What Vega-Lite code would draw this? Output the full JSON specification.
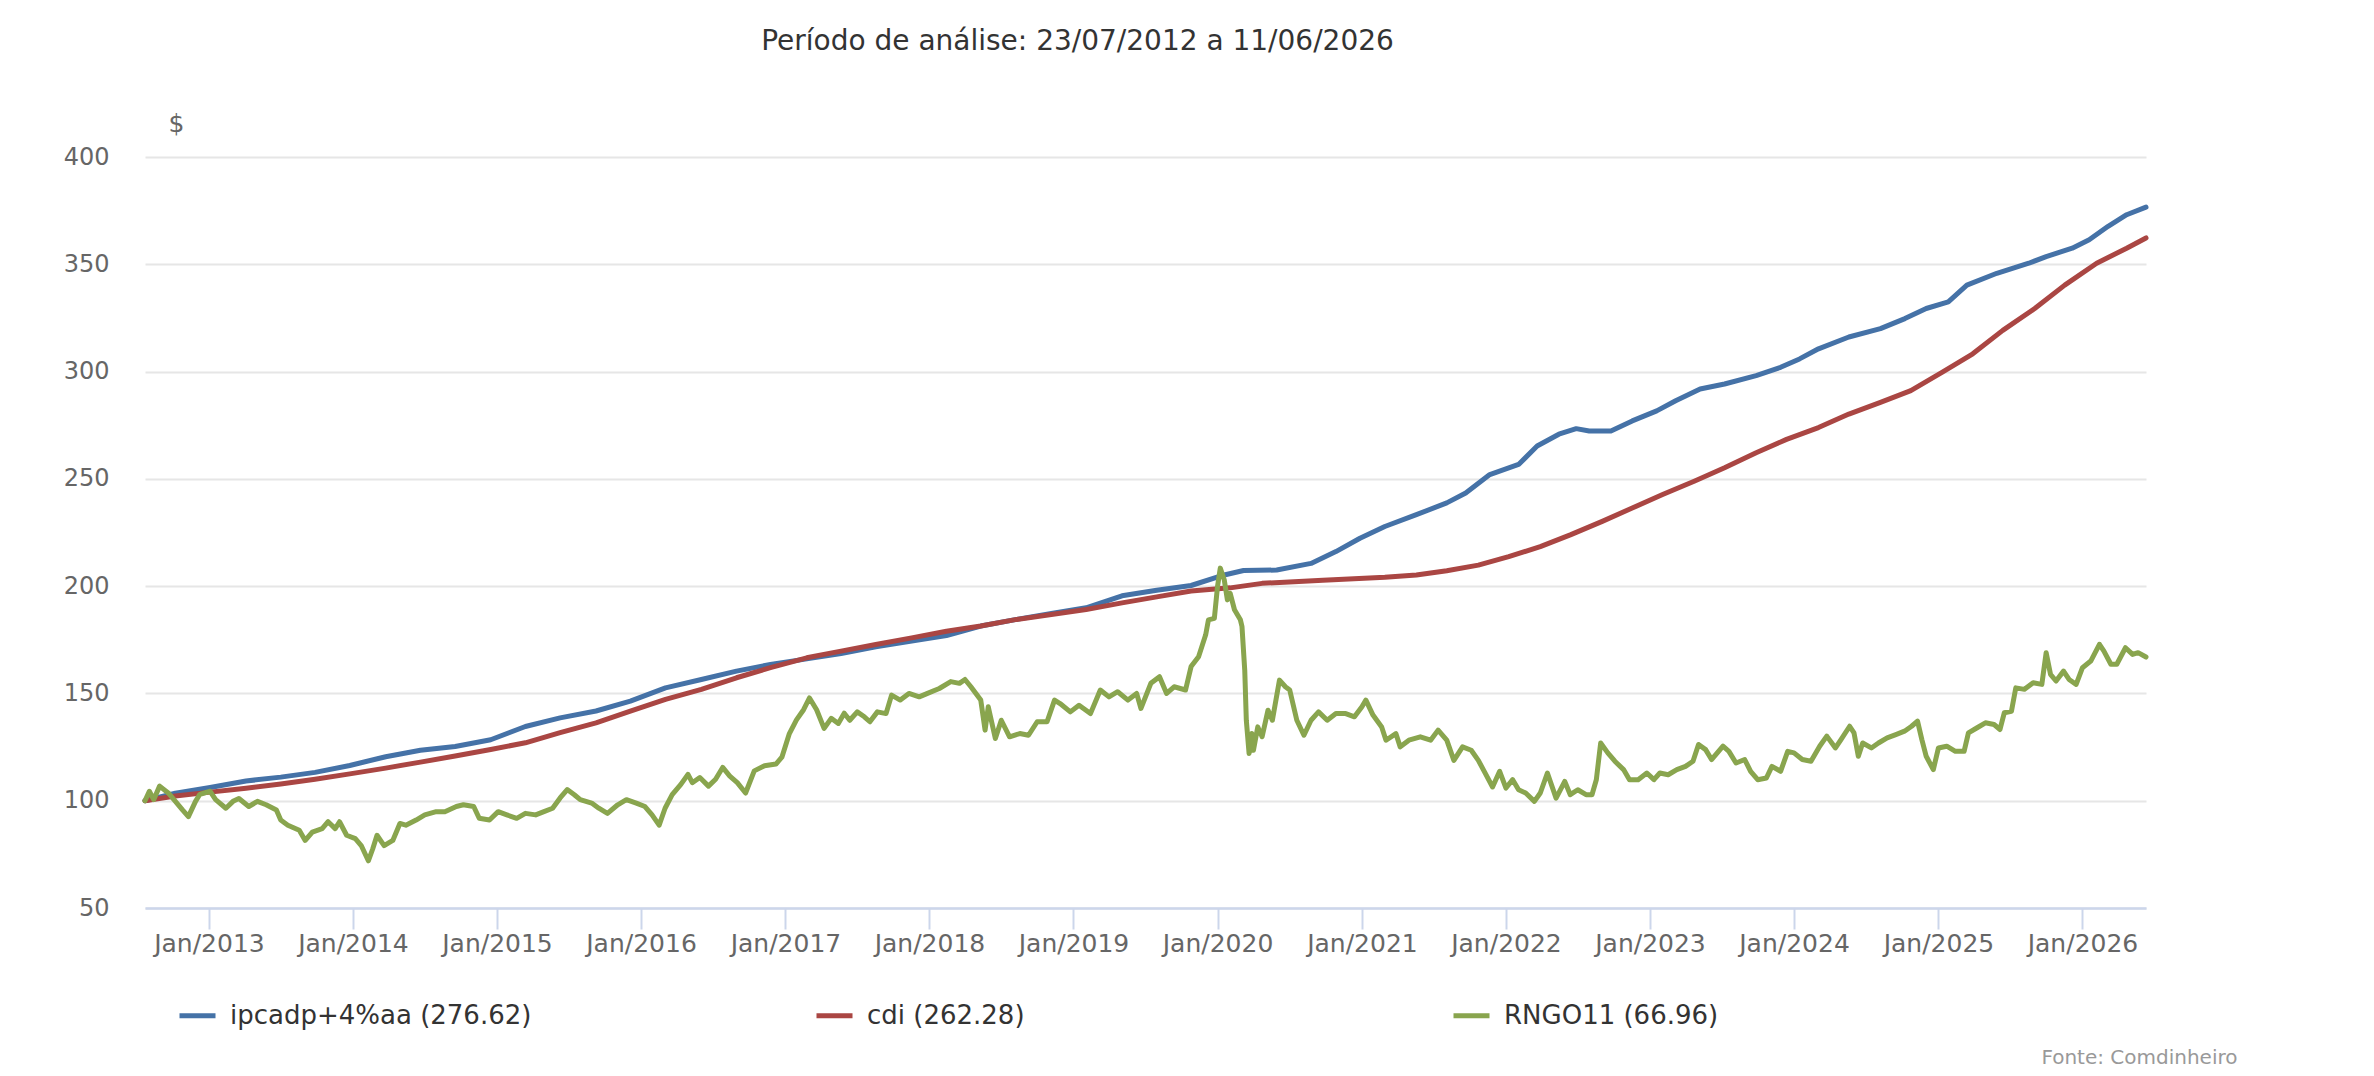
{
  "$schema": "https://vega.github.io/schema/vega-lite/v6.json",
  "autosize": {"type": "none"},
  "width": 2001,
  "height": 751,
  "padding": {"left": 145, "top": 157, "right": 228, "bottom": 168},
  "background": "white",
  "title": {
    "text": "Período de análise: 23/07/2012 a 11/06/2026",
    "font": "DejaVu Sans",
    "fontSize": 28,
    "fontWeight": "normal",
    "color": "#333333",
    "anchor": "middle",
    "frame": "group",
    "dx": -68,
    "offset": 55
  },
  "config": {
    "view": {"stroke": null},
    "font": "DejaVu Sans"
  },
  "datasets": {
    "serie": [
      {"date": "2012-07-23", "s": "ipca", "v": 100},
      {"date": "2012-10-08", "s": "ipca", "v": 103.5},
      {"date": "2013-01-04", "s": "ipca", "v": 106.2},
      {"date": "2013-04-05", "s": "ipca", "v": 109.2},
      {"date": "2013-07-02", "s": "ipca", "v": 111},
      {"date": "2013-09-27", "s": "ipca", "v": 113.2},
      {"date": "2013-12-24", "s": "ipca", "v": 116.4},
      {"date": "2014-03-25", "s": "ipca", "v": 120.5},
      {"date": "2014-06-21", "s": "ipca", "v": 123.5},
      {"date": "2014-09-17", "s": "ipca", "v": 125.3},
      {"date": "2014-12-16", "s": "ipca", "v": 128.4},
      {"date": "2015-03-14", "s": "ipca", "v": 134.6},
      {"date": "2015-06-10", "s": "ipca", "v": 138.6},
      {"date": "2015-09-09", "s": "ipca", "v": 141.8},
      {"date": "2015-12-05", "s": "ipca", "v": 146.4},
      {"date": "2016-03-03", "s": "ipca", "v": 152.6},
      {"date": "2016-06-02", "s": "ipca", "v": 156.5},
      {"date": "2016-08-30", "s": "ipca", "v": 160.4},
      {"date": "2016-11-24", "s": "ipca", "v": 163.5},
      {"date": "2017-02-24", "s": "ipca", "v": 166.1},
      {"date": "2017-05-22", "s": "ipca", "v": 168.6},
      {"date": "2017-08-18", "s": "ipca", "v": 171.7},
      {"date": "2017-11-17", "s": "ipca", "v": 174.4},
      {"date": "2018-02-13", "s": "ipca", "v": 177},
      {"date": "2018-05-11", "s": "ipca", "v": 181.4},
      {"date": "2018-08-10", "s": "ipca", "v": 184.5},
      {"date": "2018-11-06", "s": "ipca", "v": 187.3},
      {"date": "2019-02-02", "s": "ipca", "v": 189.9},
      {"date": "2019-05-04", "s": "ipca", "v": 195.5},
      {"date": "2019-07-31", "s": "ipca", "v": 198.1},
      {"date": "2019-10-26", "s": "ipca", "v": 200.3},
      {"date": "2020-01-18", "s": "ipca", "v": 205.2},
      {"date": "2020-03-07", "s": "ipca", "v": 207.3},
      {"date": "2020-05-30", "s": "ipca", "v": 207.5},
      {"date": "2020-08-25", "s": "ipca", "v": 210.6},
      {"date": "2020-10-27", "s": "ipca", "v": 216.1},
      {"date": "2020-12-27", "s": "ipca", "v": 222.3},
      {"date": "2021-02-28", "s": "ipca", "v": 227.8},
      {"date": "2021-05-19", "s": "ipca", "v": 233.3},
      {"date": "2021-08-04", "s": "ipca", "v": 238.8},
      {"date": "2021-09-21", "s": "ipca", "v": 243.4},
      {"date": "2021-11-21", "s": "ipca", "v": 252},
      {"date": "2022-02-02", "s": "ipca", "v": 256.7},
      {"date": "2022-03-21", "s": "ipca", "v": 265.3},
      {"date": "2022-05-15", "s": "ipca", "v": 270.8},
      {"date": "2022-06-28", "s": "ipca", "v": 273.4},
      {"date": "2022-07-31", "s": "ipca", "v": 272.3},
      {"date": "2022-09-24", "s": "ipca", "v": 272.3},
      {"date": "2022-11-17", "s": "ipca", "v": 277},
      {"date": "2023-01-18", "s": "ipca", "v": 281.7},
      {"date": "2023-03-07", "s": "ipca", "v": 286.4},
      {"date": "2023-05-08", "s": "ipca", "v": 291.9},
      {"date": "2023-07-09", "s": "ipca", "v": 294.2},
      {"date": "2023-09-27", "s": "ipca", "v": 298.1},
      {"date": "2023-11-28", "s": "ipca", "v": 302},
      {"date": "2024-01-15", "s": "ipca", "v": 305.9},
      {"date": "2024-03-03", "s": "ipca", "v": 310.6},
      {"date": "2024-05-19", "s": "ipca", "v": 316.1},
      {"date": "2024-08-07", "s": "ipca", "v": 320},
      {"date": "2024-10-08", "s": "ipca", "v": 324.7},
      {"date": "2024-12-01", "s": "ipca", "v": 329.4},
      {"date": "2025-01-26", "s": "ipca", "v": 332.5},
      {"date": "2025-03-14", "s": "ipca", "v": 340.3},
      {"date": "2025-05-29", "s": "ipca", "v": 345.8},
      {"date": "2025-08-18", "s": "ipca", "v": 350.5},
      {"date": "2025-10-01", "s": "ipca", "v": 353.6},
      {"date": "2025-12-06", "s": "ipca", "v": 357.5},
      {"date": "2026-01-18", "s": "ipca", "v": 361.4},
      {"date": "2026-03-07", "s": "ipca", "v": 367.7},
      {"date": "2026-04-23", "s": "ipca", "v": 373.1},
      {"date": "2026-06-11", "s": "ipca", "v": 376.62},

      {"date": "2012-07-23", "s": "cdi", "v": 100},
      {"date": "2012-10-08", "s": "cdi", "v": 102.2},
      {"date": "2013-01-04", "s": "cdi", "v": 104},
      {"date": "2013-04-05", "s": "cdi", "v": 105.8},
      {"date": "2013-07-02", "s": "cdi", "v": 107.8},
      {"date": "2013-09-27", "s": "cdi", "v": 110},
      {"date": "2013-12-24", "s": "cdi", "v": 112.5},
      {"date": "2014-03-25", "s": "cdi", "v": 115.2},
      {"date": "2014-06-21", "s": "cdi", "v": 118},
      {"date": "2014-09-17", "s": "cdi", "v": 120.8},
      {"date": "2014-12-16", "s": "cdi", "v": 123.9},
      {"date": "2015-03-14", "s": "cdi", "v": 127},
      {"date": "2015-06-10", "s": "cdi", "v": 131.7},
      {"date": "2015-09-09", "s": "cdi", "v": 136.3},
      {"date": "2015-12-05", "s": "cdi", "v": 141.8},
      {"date": "2016-03-03", "s": "cdi", "v": 147.2},
      {"date": "2016-06-02", "s": "cdi", "v": 151.9},
      {"date": "2016-08-30", "s": "cdi", "v": 157.3},
      {"date": "2016-11-24", "s": "cdi", "v": 162},
      {"date": "2017-02-24", "s": "cdi", "v": 166.6},
      {"date": "2017-05-22", "s": "cdi", "v": 169.7},
      {"date": "2017-08-18", "s": "cdi", "v": 172.8},
      {"date": "2017-11-17", "s": "cdi", "v": 175.9},
      {"date": "2018-02-13", "s": "cdi", "v": 179},
      {"date": "2018-05-11", "s": "cdi", "v": 181.4},
      {"date": "2018-08-10", "s": "cdi", "v": 184.5},
      {"date": "2018-11-06", "s": "cdi", "v": 186.8},
      {"date": "2019-02-02", "s": "cdi", "v": 189.1},
      {"date": "2019-05-04", "s": "cdi", "v": 192.2},
      {"date": "2019-07-31", "s": "cdi", "v": 195},
      {"date": "2019-10-26", "s": "cdi", "v": 197.7},
      {"date": "2020-02-02", "s": "cdi", "v": 199.2},
      {"date": "2020-04-23", "s": "cdi", "v": 201.3},
      {"date": "2020-09-24", "s": "cdi", "v": 202.8},
      {"date": "2021-02-28", "s": "cdi", "v": 204.1},
      {"date": "2021-05-19", "s": "cdi", "v": 205.2},
      {"date": "2021-08-04", "s": "cdi", "v": 207.2},
      {"date": "2021-10-23", "s": "cdi", "v": 209.8},
      {"date": "2022-01-08", "s": "cdi", "v": 213.8},
      {"date": "2022-03-29", "s": "cdi", "v": 218.4},
      {"date": "2022-06-13", "s": "cdi", "v": 223.9},
      {"date": "2022-09-02", "s": "cdi", "v": 230.2},
      {"date": "2022-11-17", "s": "cdi", "v": 236.4},
      {"date": "2023-02-02", "s": "cdi", "v": 242.7},
      {"date": "2023-04-23", "s": "cdi", "v": 248.9},
      {"date": "2023-07-09", "s": "cdi", "v": 255.2},
      {"date": "2023-09-27", "s": "cdi", "v": 262.2},
      {"date": "2023-12-13", "s": "cdi", "v": 268.4},
      {"date": "2024-03-03", "s": "cdi", "v": 273.9},
      {"date": "2024-05-19", "s": "cdi", "v": 280.2},
      {"date": "2024-08-07", "s": "cdi", "v": 285.6},
      {"date": "2024-10-23", "s": "cdi", "v": 291.1},
      {"date": "2025-01-11", "s": "cdi", "v": 299.7},
      {"date": "2025-03-29", "s": "cdi", "v": 308.3},
      {"date": "2025-06-13", "s": "cdi", "v": 319.2},
      {"date": "2025-09-02", "s": "cdi", "v": 329.4},
      {"date": "2025-11-17", "s": "cdi", "v": 340.3},
      {"date": "2026-02-06", "s": "cdi", "v": 350.5},
      {"date": "2026-04-23", "s": "cdi", "v": 357.5},
      {"date": "2026-06-11", "s": "cdi", "v": 362.28},

      {"date": "2012-07-23", "s": "rngo", "v": 100},
      {"date": "2012-08-03", "s": "rngo", "v": 104.4},
      {"date": "2012-08-14", "s": "rngo", "v": 100.5},
      {"date": "2012-08-29", "s": "rngo", "v": 106.8},
      {"date": "2012-09-20", "s": "rngo", "v": 103.6},
      {"date": "2012-10-08", "s": "rngo", "v": 99.7},
      {"date": "2012-10-26", "s": "rngo", "v": 95.7},
      {"date": "2012-11-10", "s": "rngo", "v": 92.6},
      {"date": "2012-11-28", "s": "rngo", "v": 99.7},
      {"date": "2012-12-09", "s": "rngo", "v": 103},
      {"date": "2013-01-04", "s": "rngo", "v": 104.4},
      {"date": "2013-01-18", "s": "rngo", "v": 100.5},
      {"date": "2013-02-13", "s": "rngo", "v": 96.5},
      {"date": "2013-03-03", "s": "rngo", "v": 99.7},
      {"date": "2013-03-18", "s": "rngo", "v": 101},
      {"date": "2013-04-12", "s": "rngo", "v": 97.3},
      {"date": "2013-05-04", "s": "rngo", "v": 99.7},
      {"date": "2013-05-26", "s": "rngo", "v": 98.1},
      {"date": "2013-06-21", "s": "rngo", "v": 95.7},
      {"date": "2013-07-02", "s": "rngo", "v": 91},
      {"date": "2013-07-20", "s": "rngo", "v": 88.6},
      {"date": "2013-08-18", "s": "rngo", "v": 86.2},
      {"date": "2013-09-02", "s": "rngo", "v": 81.5},
      {"date": "2013-09-20", "s": "rngo", "v": 85.4},
      {"date": "2013-10-15", "s": "rngo", "v": 87},
      {"date": "2013-10-30", "s": "rngo", "v": 90.2},
      {"date": "2013-11-17", "s": "rngo", "v": 87},
      {"date": "2013-11-28", "s": "rngo", "v": 90.2},
      {"date": "2013-12-16", "s": "rngo", "v": 83.9},
      {"date": "2014-01-07", "s": "rngo", "v": 82.3},
      {"date": "2014-01-22", "s": "rngo", "v": 79.1},
      {"date": "2014-02-09", "s": "rngo", "v": 72},
      {"date": "2014-02-20", "s": "rngo", "v": 77.5},
      {"date": "2014-03-03", "s": "rngo", "v": 83.9},
      {"date": "2014-03-21", "s": "rngo", "v": 79.1},
      {"date": "2014-04-12", "s": "rngo", "v": 81.5},
      {"date": "2014-04-30", "s": "rngo", "v": 89.4},
      {"date": "2014-05-15", "s": "rngo", "v": 88.6},
      {"date": "2014-06-10", "s": "rngo", "v": 91},
      {"date": "2014-07-02", "s": "rngo", "v": 93.4},
      {"date": "2014-07-31", "s": "rngo", "v": 94.9},
      {"date": "2014-08-22", "s": "rngo", "v": 94.9},
      {"date": "2014-09-20", "s": "rngo", "v": 97.3},
      {"date": "2014-10-08", "s": "rngo", "v": 98.1},
      {"date": "2014-11-03", "s": "rngo", "v": 97.3},
      {"date": "2014-11-17", "s": "rngo", "v": 91.8},
      {"date": "2014-12-13", "s": "rngo", "v": 91},
      {"date": "2015-01-04", "s": "rngo", "v": 94.9},
      {"date": "2015-01-26", "s": "rngo", "v": 93.4},
      {"date": "2015-02-20", "s": "rngo", "v": 91.8},
      {"date": "2015-03-14", "s": "rngo", "v": 94.1},
      {"date": "2015-04-09", "s": "rngo", "v": 93.4},
      {"date": "2015-04-30", "s": "rngo", "v": 94.9},
      {"date": "2015-05-22", "s": "rngo", "v": 96.5},
      {"date": "2015-06-10", "s": "rngo", "v": 101.3},
      {"date": "2015-06-28", "s": "rngo", "v": 105.2},
      {"date": "2015-07-16", "s": "rngo", "v": 102.8},
      {"date": "2015-07-31", "s": "rngo", "v": 100.5},
      {"date": "2015-08-29", "s": "rngo", "v": 98.9},
      {"date": "2015-09-16", "s": "rngo", "v": 96.5},
      {"date": "2015-10-08", "s": "rngo", "v": 94.1},
      {"date": "2015-11-03", "s": "rngo", "v": 98.1},
      {"date": "2015-11-25", "s": "rngo", "v": 100.5},
      {"date": "2015-12-20", "s": "rngo", "v": 98.9},
      {"date": "2016-01-11", "s": "rngo", "v": 97.3},
      {"date": "2016-01-29", "s": "rngo", "v": 93.4},
      {"date": "2016-02-16", "s": "rngo", "v": 88.6},
      {"date": "2016-03-02", "s": "rngo", "v": 96.5},
      {"date": "2016-03-20", "s": "rngo", "v": 102.8},
      {"date": "2016-04-11", "s": "rngo", "v": 107.6},
      {"date": "2016-04-29", "s": "rngo", "v": 112.3},
      {"date": "2016-05-10", "s": "rngo", "v": 108.4},
      {"date": "2016-05-29", "s": "rngo", "v": 110.8},
      {"date": "2016-06-20", "s": "rngo", "v": 106.8},
      {"date": "2016-07-08", "s": "rngo", "v": 110},
      {"date": "2016-07-26", "s": "rngo", "v": 115.5},
      {"date": "2016-08-13", "s": "rngo", "v": 111.5},
      {"date": "2016-09-01", "s": "rngo", "v": 108.4},
      {"date": "2016-09-22", "s": "rngo", "v": 103.6},
      {"date": "2016-10-14", "s": "rngo", "v": 113.9},
      {"date": "2016-11-09", "s": "rngo", "v": 116.3},
      {"date": "2016-12-08", "s": "rngo", "v": 117.1},
      {"date": "2016-12-23", "s": "rngo", "v": 120.3},
      {"date": "2017-01-11", "s": "rngo", "v": 131.3},
      {"date": "2017-01-29", "s": "rngo", "v": 137.7},
      {"date": "2017-02-16", "s": "rngo", "v": 142.4},
      {"date": "2017-03-03", "s": "rngo", "v": 147.9},
      {"date": "2017-03-21", "s": "rngo", "v": 142.4},
      {"date": "2017-04-09", "s": "rngo", "v": 133.7},
      {"date": "2017-04-27", "s": "rngo", "v": 138.4},
      {"date": "2017-05-15", "s": "rngo", "v": 136},
      {"date": "2017-05-30", "s": "rngo", "v": 140.8},
      {"date": "2017-06-13", "s": "rngo", "v": 137.5},
      {"date": "2017-07-02", "s": "rngo", "v": 141.4},
      {"date": "2017-07-20", "s": "rngo", "v": 139.1},
      {"date": "2017-08-03", "s": "rngo", "v": 136.8},
      {"date": "2017-08-22", "s": "rngo", "v": 141.4},
      {"date": "2017-09-13", "s": "rngo", "v": 140.6},
      {"date": "2017-09-27", "s": "rngo", "v": 149.2},
      {"date": "2017-10-19", "s": "rngo", "v": 146.9},
      {"date": "2017-11-10", "s": "rngo", "v": 150},
      {"date": "2017-12-06", "s": "rngo", "v": 148.4},
      {"date": "2017-12-27", "s": "rngo", "v": 150},
      {"date": "2018-01-26", "s": "rngo", "v": 152.3},
      {"date": "2018-02-24", "s": "rngo", "v": 155.5},
      {"date": "2018-03-18", "s": "rngo", "v": 154.7},
      {"date": "2018-04-01", "s": "rngo", "v": 156.5},
      {"date": "2018-04-16", "s": "rngo", "v": 153.1},
      {"date": "2018-05-11", "s": "rngo", "v": 146.9},
      {"date": "2018-05-22", "s": "rngo", "v": 132.9},
      {"date": "2018-05-30", "s": "rngo", "v": 143.8},
      {"date": "2018-06-17", "s": "rngo", "v": 129},
      {"date": "2018-07-02", "s": "rngo", "v": 137.5},
      {"date": "2018-07-23", "s": "rngo", "v": 129.8},
      {"date": "2018-08-18", "s": "rngo", "v": 131.3},
      {"date": "2018-09-09", "s": "rngo", "v": 130.5},
      {"date": "2018-10-01", "s": "rngo", "v": 136.8},
      {"date": "2018-10-26", "s": "rngo", "v": 136.8},
      {"date": "2018-11-14", "s": "rngo", "v": 146.9},
      {"date": "2018-11-28", "s": "rngo", "v": 145.3},
      {"date": "2018-12-24", "s": "rngo", "v": 141.4},
      {"date": "2019-01-15", "s": "rngo", "v": 144.5},
      {"date": "2019-02-13", "s": "rngo", "v": 140.6},
      {"date": "2019-03-10", "s": "rngo", "v": 151.6},
      {"date": "2019-04-01", "s": "rngo", "v": 148.4},
      {"date": "2019-04-23", "s": "rngo", "v": 150.8},
      {"date": "2019-05-19", "s": "rngo", "v": 146.9},
      {"date": "2019-06-10", "s": "rngo", "v": 150},
      {"date": "2019-06-21", "s": "rngo", "v": 143},
      {"date": "2019-07-16", "s": "rngo", "v": 154.7},
      {"date": "2019-08-07", "s": "rngo", "v": 157.8},
      {"date": "2019-08-25", "s": "rngo", "v": 150},
      {"date": "2019-09-13", "s": "rngo", "v": 153.1},
      {"date": "2019-10-12", "s": "rngo", "v": 151.6},
      {"date": "2019-10-26", "s": "rngo", "v": 162.5},
      {"date": "2019-11-14", "s": "rngo", "v": 167.1},
      {"date": "2019-12-02", "s": "rngo", "v": 177.3},
      {"date": "2019-12-09", "s": "rngo", "v": 184.3},
      {"date": "2019-12-24", "s": "rngo", "v": 185},
      {"date": "2020-01-01", "s": "rngo", "v": 199.8},
      {"date": "2020-01-08", "s": "rngo", "v": 208.4},
      {"date": "2020-01-18", "s": "rngo", "v": 203},
      {"date": "2020-01-26", "s": "rngo", "v": 193.6},
      {"date": "2020-02-02", "s": "rngo", "v": 196.7},
      {"date": "2020-02-13", "s": "rngo", "v": 189},
      {"date": "2020-02-28", "s": "rngo", "v": 184.3},
      {"date": "2020-03-03", "s": "rngo", "v": 181.2},
      {"date": "2020-03-10", "s": "rngo", "v": 160.9},
      {"date": "2020-03-14", "s": "rngo", "v": 137.5},
      {"date": "2020-03-21", "s": "rngo", "v": 122},
      {"date": "2020-03-28", "s": "rngo", "v": 131.3},
      {"date": "2020-04-01", "s": "rngo", "v": 123.5},
      {"date": "2020-04-12", "s": "rngo", "v": 134.4},
      {"date": "2020-04-23", "s": "rngo", "v": 129.8},
      {"date": "2020-05-08", "s": "rngo", "v": 142.2},
      {"date": "2020-05-19", "s": "rngo", "v": 137.5},
      {"date": "2020-06-06", "s": "rngo", "v": 156.2},
      {"date": "2020-06-21", "s": "rngo", "v": 153.1},
      {"date": "2020-07-02", "s": "rngo", "v": 151.6},
      {"date": "2020-07-20", "s": "rngo", "v": 137.5},
      {"date": "2020-08-07", "s": "rngo", "v": 130.5},
      {"date": "2020-08-25", "s": "rngo", "v": 137.5},
      {"date": "2020-09-13", "s": "rngo", "v": 141.4},
      {"date": "2020-10-05", "s": "rngo", "v": 137.5},
      {"date": "2020-10-27", "s": "rngo", "v": 140.6},
      {"date": "2020-11-21", "s": "rngo", "v": 140.6},
      {"date": "2020-12-13", "s": "rngo", "v": 139.1},
      {"date": "2021-01-01", "s": "rngo", "v": 143.8},
      {"date": "2021-01-11", "s": "rngo", "v": 146.9},
      {"date": "2021-01-29", "s": "rngo", "v": 139.9},
      {"date": "2021-02-20", "s": "rngo", "v": 134.4},
      {"date": "2021-03-03", "s": "rngo", "v": 128.2},
      {"date": "2021-03-28", "s": "rngo", "v": 131.3},
      {"date": "2021-04-08", "s": "rngo", "v": 125.1},
      {"date": "2021-04-30", "s": "rngo", "v": 128.2},
      {"date": "2021-05-29", "s": "rngo", "v": 129.8},
      {"date": "2021-06-24", "s": "rngo", "v": 128.2},
      {"date": "2021-07-13", "s": "rngo", "v": 132.9},
      {"date": "2021-08-04", "s": "rngo", "v": 128.2},
      {"date": "2021-08-22", "s": "rngo", "v": 118.8},
      {"date": "2021-09-13", "s": "rngo", "v": 125.1},
      {"date": "2021-10-05", "s": "rngo", "v": 123.5},
      {"date": "2021-10-23", "s": "rngo", "v": 118.8},
      {"date": "2021-11-10", "s": "rngo", "v": 112.6},
      {"date": "2021-11-28", "s": "rngo", "v": 106.4},
      {"date": "2021-12-16", "s": "rngo", "v": 113.7},
      {"date": "2022-01-01", "s": "rngo", "v": 105.9},
      {"date": "2022-01-18", "s": "rngo", "v": 109.8},
      {"date": "2022-02-02", "s": "rngo", "v": 105.1},
      {"date": "2022-02-20", "s": "rngo", "v": 103.6},
      {"date": "2022-03-14", "s": "rngo", "v": 99.7},
      {"date": "2022-03-29", "s": "rngo", "v": 103.6},
      {"date": "2022-04-16", "s": "rngo", "v": 112.9},
      {"date": "2022-05-08", "s": "rngo", "v": 101.2},
      {"date": "2022-05-30", "s": "rngo", "v": 109},
      {"date": "2022-06-13", "s": "rngo", "v": 102.8},
      {"date": "2022-07-02", "s": "rngo", "v": 105.1},
      {"date": "2022-07-23", "s": "rngo", "v": 102.8},
      {"date": "2022-08-07", "s": "rngo", "v": 102.8},
      {"date": "2022-08-18", "s": "rngo", "v": 109.8},
      {"date": "2022-08-29", "s": "rngo", "v": 126.9},
      {"date": "2022-09-16", "s": "rngo", "v": 122.3},
      {"date": "2022-10-04", "s": "rngo", "v": 118.4},
      {"date": "2022-10-26", "s": "rngo", "v": 114.5},
      {"date": "2022-11-10", "s": "rngo", "v": 109.8},
      {"date": "2022-12-02", "s": "rngo", "v": 109.8},
      {"date": "2022-12-24", "s": "rngo", "v": 112.9},
      {"date": "2023-01-11", "s": "rngo", "v": 109.8},
      {"date": "2023-01-26", "s": "rngo", "v": 112.9},
      {"date": "2023-02-16", "s": "rngo", "v": 112.1},
      {"date": "2023-03-10", "s": "rngo", "v": 114.5},
      {"date": "2023-04-01", "s": "rngo", "v": 116},
      {"date": "2023-04-20", "s": "rngo", "v": 118.4},
      {"date": "2023-05-04", "s": "rngo", "v": 126.2},
      {"date": "2023-05-22", "s": "rngo", "v": 123.8},
      {"date": "2023-06-06", "s": "rngo", "v": 119.2},
      {"date": "2023-07-05", "s": "rngo", "v": 125.4},
      {"date": "2023-07-20", "s": "rngo", "v": 123},
      {"date": "2023-08-07", "s": "rngo", "v": 117.6},
      {"date": "2023-08-29", "s": "rngo", "v": 119.2},
      {"date": "2023-09-13", "s": "rngo", "v": 113.7},
      {"date": "2023-10-01", "s": "rngo", "v": 109.8},
      {"date": "2023-10-23", "s": "rngo", "v": 110.6},
      {"date": "2023-11-06", "s": "rngo", "v": 116},
      {"date": "2023-11-28", "s": "rngo", "v": 113.7},
      {"date": "2023-12-16", "s": "rngo", "v": 123},
      {"date": "2024-01-01", "s": "rngo", "v": 122.3},
      {"date": "2024-01-22", "s": "rngo", "v": 119.2},
      {"date": "2024-02-13", "s": "rngo", "v": 118.4},
      {"date": "2024-03-06", "s": "rngo", "v": 125.4},
      {"date": "2024-03-24", "s": "rngo", "v": 130.1},
      {"date": "2024-04-15", "s": "rngo", "v": 124.6},
      {"date": "2024-04-29", "s": "rngo", "v": 128.5},
      {"date": "2024-05-21", "s": "rngo", "v": 134.7},
      {"date": "2024-06-01", "s": "rngo", "v": 131.6},
      {"date": "2024-06-12", "s": "rngo", "v": 120.7},
      {"date": "2024-06-23", "s": "rngo", "v": 126.9},
      {"date": "2024-07-15", "s": "rngo", "v": 124.6},
      {"date": "2024-08-02", "s": "rngo", "v": 126.9},
      {"date": "2024-08-24", "s": "rngo", "v": 129.3},
      {"date": "2024-09-15", "s": "rngo", "v": 130.8},
      {"date": "2024-10-07", "s": "rngo", "v": 132.4},
      {"date": "2024-10-25", "s": "rngo", "v": 134.7},
      {"date": "2024-11-09", "s": "rngo", "v": 137.1},
      {"date": "2024-11-20", "s": "rngo", "v": 128.5},
      {"date": "2024-12-01", "s": "rngo", "v": 120.7},
      {"date": "2024-12-19", "s": "rngo", "v": 114.5},
      {"date": "2025-01-01", "s": "rngo", "v": 124.6},
      {"date": "2025-01-22", "s": "rngo", "v": 125.4},
      {"date": "2025-02-13", "s": "rngo", "v": 123},
      {"date": "2025-03-07", "s": "rngo", "v": 123},
      {"date": "2025-03-18", "s": "rngo", "v": 131.6},
      {"date": "2025-04-09", "s": "rngo", "v": 134},
      {"date": "2025-04-30", "s": "rngo", "v": 136.3},
      {"date": "2025-05-22", "s": "rngo", "v": 135.5},
      {"date": "2025-06-06", "s": "rngo", "v": 133.2},
      {"date": "2025-06-17", "s": "rngo", "v": 141},
      {"date": "2025-07-05", "s": "rngo", "v": 141.7},
      {"date": "2025-07-16", "s": "rngo", "v": 152.6},
      {"date": "2025-08-07", "s": "rngo", "v": 151.9},
      {"date": "2025-08-29", "s": "rngo", "v": 155},
      {"date": "2025-09-20", "s": "rngo", "v": 154.2},
      {"date": "2025-10-01", "s": "rngo", "v": 169},
      {"date": "2025-10-12", "s": "rngo", "v": 158.9},
      {"date": "2025-10-26", "s": "rngo", "v": 155.8},
      {"date": "2025-11-14", "s": "rngo", "v": 160.4},
      {"date": "2025-11-28", "s": "rngo", "v": 156.5},
      {"date": "2025-12-16", "s": "rngo", "v": 154.2},
      {"date": "2026-01-01", "s": "rngo", "v": 162},
      {"date": "2026-01-22", "s": "rngo", "v": 165.1},
      {"date": "2026-02-13", "s": "rngo", "v": 172.9},
      {"date": "2026-02-24", "s": "rngo", "v": 169.8},
      {"date": "2026-03-14", "s": "rngo", "v": 163.6},
      {"date": "2026-03-29", "s": "rngo", "v": 163.6},
      {"date": "2026-04-20", "s": "rngo", "v": 171.3},
      {"date": "2026-05-08", "s": "rngo", "v": 168.2},
      {"date": "2026-05-22", "s": "rngo", "v": 169},
      {"date": "2026-06-11", "s": "rngo", "v": 166.96}
    ]
  },
  "data": {"name": "serie"},
  "mark": {"type": "line", "interpolate": "linear", "strokeWidth": 5, "strokeJoin": "round", "strokeCap": "round"},
  "encoding": {
    "x": {
      "field": "date",
      "type": "temporal",
      "scale": {"domain": [{"year": 2012, "month": 7, "date": 23}, {"year": 2026, "month": 6, "date": 11}], "nice": false},
      "axis": {
        "format": "%b/%Y",
        "tickCount": {"interval": "year", "step": 1},
        "labelFontSize": 25,
        "labelColor": "#666666",
        "labelPadding": 2,
        "labelFlush": false,
        "labelOverlap": false,
        "domainColor": "#ccd6eb",
        "domainWidth": 2.5,
        "tickColor": "#ccd6eb",
        "tickWidth": 2,
        "tickSize": 21,
        "grid": false,
        "title": "Fonte: Comdinheiro",
        "titleX": 2092,
        "titleY": 155,
        "titleAlign": "right",
        "titleBaseline": "alphabetic",
        "titleFontSize": 20,
        "titleFontWeight": "normal",
        "titleColor": "#999999"
      }
    },
    "y": {
      "field": "v",
      "type": "quantitative",
      "scale": {"domain": [50, 400], "nice": false, "zero": false},
      "axis": {
        "values": [50, 100, 150, 200, 250, 300, 350, 400],
        "labelFontSize": 24,
        "labelColor": "#666666",
        "labelPadding": 36,
        "ticks": false,
        "tickSize": 0,
        "domain": false,
        "grid": true,
        "gridColor": "#e6e6e6",
        "gridWidth": 2,
        "title": "$",
        "titleAngle": 0,
        "titleX": 31,
        "titleY": -26,
        "titleAlign": "center",
        "titleBaseline": "alphabetic",
        "titleFontSize": 25,
        "titleFontWeight": "normal",
        "titleColor": "#666666"
      }
    },
    "color": {
      "field": "s",
      "type": "nominal",
      "scale": {"domain": ["ipca", "cdi", "rngo"], "range": ["#4572A7", "#AA4643", "#89A54E"]},
      "legend": {
        "orient": "none",
        "legendX": 32,
        "legendY": 838,
        "direction": "horizontal",
        "columns": 3,
        "gridAlign": "all",
        "columnPadding": 274,
        "title": null,
        "symbolType": "stroke",
        "symbolSize": 1296,
        "symbolStrokeWidth": 5,
        "labelFontSize": 26,
        "labelColor": "#333333",
        "labelOffset": 12,
        "labelLimit": 1000,
        "labelExpr": "datum.label == 'ipca' ? 'ipcadp+4%aa (276.62)' : datum.label == 'cdi' ? 'cdi (262.28)' : 'RNGO11 (66.96)'"
      }
    }
  }
}
